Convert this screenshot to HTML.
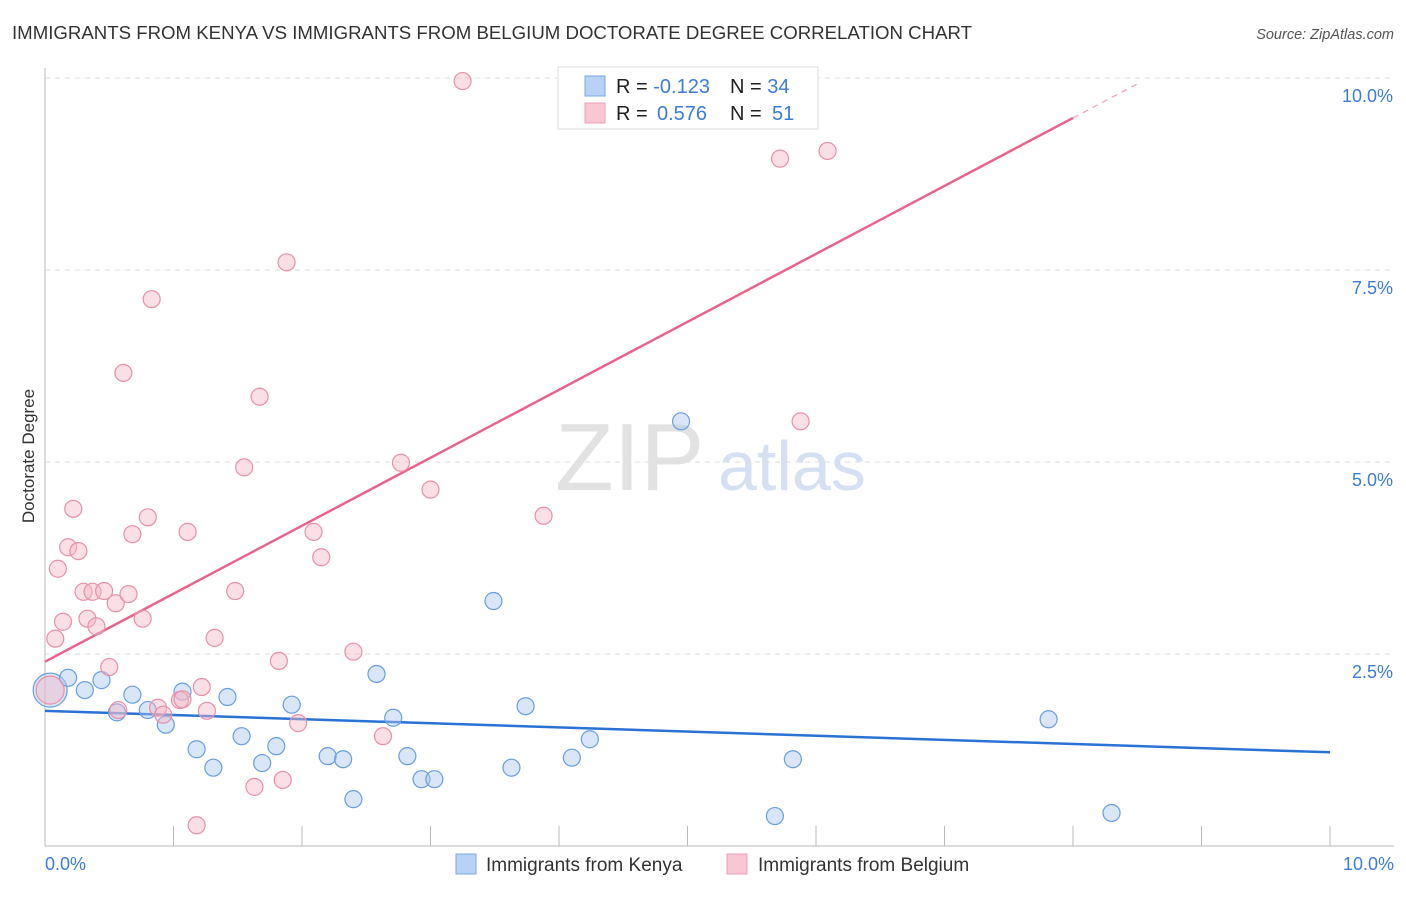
<!DOCTYPE html>
<html><head><meta charset="utf-8"><style>
body{margin:0;background:#fff;font-family:"Liberation Sans",sans-serif;}
svg text{font-family:"Liberation Sans",sans-serif;}
</style></head><body>
<svg id="chart" width="1406" height="892" xmlns="http://www.w3.org/2000/svg">
<text x="12" y="39" font-size="18" fill="#333" textLength="960" lengthAdjust="spacingAndGlyphs">IMMIGRANTS FROM KENYA VS IMMIGRANTS FROM BELGIUM DOCTORATE DEGREE CORRELATION CHART</text>
<text x="1394" y="39" font-size="14.5" fill="#555" font-style="italic" text-anchor="end">Source: ZipAtlas.com</text>
<text x="34" y="456" font-size="17" fill="#333" text-anchor="middle" transform="rotate(-90 34 456)">Doctorate Degree</text>
<text x="555" y="490" font-size="96" fill="#e2e2e2" font-family="Liberation Serif">ZIP</text>
<text x="718" y="490" font-size="70" fill="#d5e1f2">atlas</text>
<g id="grid"></g><g id="axes"></g><g id="lines"></g><g id="pts"></g>
<g>
<rect x="558" y="67" width="260" height="62" fill="#fff" stroke="#ddd"/>
<rect x="585" y="76" width="20" height="20" fill="#b8d2f5" stroke="#7aa8e6"/>
<rect x="585" y="103" width="20" height="20" fill="#f9c6d4" stroke="#eda0b8"/>
<text x="616" y="93" font-size="20" fill="#222">R = <tspan fill="#3b7dd8">-0.123</tspan><tspan x="730">N = </tspan><tspan fill="#3b7dd8">34</tspan></text>
<text x="616" y="120" font-size="20" fill="#222">R = <tspan fill="#3b7dd8" x="657">0.576</tspan><tspan x="730">N = </tspan><tspan fill="#3b7dd8" x="772">51</tspan></text>
</g>
<g>
<rect x="456" y="854" width="20" height="20" fill="#b8d2f5" stroke="#7aa8e6"/>
<text x="486" y="871" font-size="19" fill="#333">Immigrants from Kenya</text>
<rect x="727" y="854" width="20" height="20" fill="#f9c6d4" stroke="#eda0b8"/>
<text x="758" y="871" font-size="19" fill="#333">Immigrants from Belgium</text>
</g>
</svg>
<script>
const blueX=[0.04,0.18,0.31,0.44,0.56,0.68,0.80,0.94,1.07,1.18,1.31,1.42,1.53,1.69,1.80,1.92,2.20,2.32,2.40,2.58,2.71,2.82,2.93,3.03,3.49,3.63,3.74,4.10,4.24,4.95,5.68,5.82,7.81,8.30];
const blueY=[2.03,2.19,2.03,2.16,1.74,1.97,1.77,1.58,2.01,1.26,1.02,1.94,1.43,1.08,1.30,1.84,1.17,1.13,0.61,2.24,1.67,1.17,0.87,0.87,3.19,1.02,1.82,1.15,1.39,5.53,0.39,1.13,1.65,0.43];
const pinkX=[0.04,0.08,0.10,0.14,0.18,0.22,0.26,0.30,0.33,0.37,0.40,0.46,0.50,0.55,0.57,0.61,0.65,0.68,0.76,0.80,0.83,0.88,0.92,1.05,1.07,1.11,1.18,1.22,1.26,1.32,1.48,1.55,1.63,1.67,1.82,1.85,1.88,1.97,2.09,2.15,2.40,2.63,2.77,3.00,3.25,3.88,5.72,5.88,6.09];
const pinkY=[2.03,2.70,3.61,2.92,3.89,4.39,3.84,3.31,2.96,3.31,2.86,3.32,2.33,3.16,1.77,6.16,3.28,4.06,2.96,4.28,7.12,1.80,1.71,1.90,1.91,4.09,0.27,2.07,1.76,2.71,3.32,4.93,0.77,5.85,2.41,0.86,7.60,1.60,4.09,3.76,2.53,1.43,4.99,4.64,9.96,4.30,8.95,5.53,9.05];
const blueTrend=[1.76,-0.054];
const pinkTrend=[2.40,0.885];
const yTicks=[2.5,5.0,7.5,10.0];
const xTicks=[0,1,2,3,4,5,6,7,8,9,10];
const NS="http://www.w3.org/2000/svg";
const sx=v=>45+v*128.5, sy=v=>846-v*76.8;
function mk(t,a,p){const e=document.createElementNS(NS,t);for(const k in a)e.setAttribute(k,a[k]);document.getElementById(p).appendChild(e);return e;}
yTicks.forEach(t=>{
 const g=mk('line',{x1:45,x2:1394,y1:sy(t),y2:sy(t),stroke:'#ddd','stroke-dasharray':'5,5'},'grid');
 
 
 const l=mk('text',{x:1393,y:sy(t)+24,'font-size':18,fill:'#3b7dd8','text-anchor':'end'},'grid');
 l.textContent=t.toFixed(1)+'%';
 
 
});
const ax=mk('line',{x1:45,x2:1394,y1:846,y2:846,stroke:'#bbb'},'axes');


const ay=mk('line',{x1:45,x2:45,y1:68,y2:846,stroke:'#bbb'},'axes');


xTicks.forEach(t=>{
 const k=mk('line',{x1:sx(t),x2:sx(t),y1:826,y2:846,stroke:'#bbb'},'axes');
 
 
});
[[0,'start'],[10,'end']].forEach(([t,a])=>{
 const l=mk('text',{x:sx(t)+(t?64:0),y:870,'font-size':18,fill:'#3b7dd8','text-anchor':a},'axes');
 l.textContent=t.toFixed(1)+'%';
 
 
});
function pts(X,Y,fill,stroke,name,big){
 X.forEach((x,i)=>{
  const c=mk('circle',{cx:sx(x),cy:sy(Y[i]),r:i===0?big:8.5,fill:fill,'fill-opacity':0.45,stroke:stroke,'stroke-width':1.2},'pts');
  
  
 });
}
pts(blueX,blueY,'#a9c8f0','#6a9ee0','kenya-point',17);
pts(pinkX,pinkY,'#f5b8c8','#e890a8','belgium-point',14);
const bl=mk('line',{x1:sx(0),y1:sy(blueTrend[0]),x2:sx(10),y2:sy(blueTrend[0]+10*blueTrend[1]),stroke:'#2a72d4','stroke-width':2.5},'lines');


const pl=mk('line',{x1:sx(0),y1:sy(pinkTrend[0]),x2:sx(8),y2:sy(pinkTrend[0]+8*pinkTrend[1]),stroke:'#e8648c','stroke-width':2.5},'lines');


const pd=mk('line',{x1:sx(8),y1:sy(pinkTrend[0]+8*pinkTrend[1]),x2:sx(8.52),y2:sy(pinkTrend[0]+8.52*pinkTrend[1]),stroke:'#f0a0b8','stroke-width':1.2,'stroke-dasharray':'6,5'},'lines');


</script>
</body></html>
